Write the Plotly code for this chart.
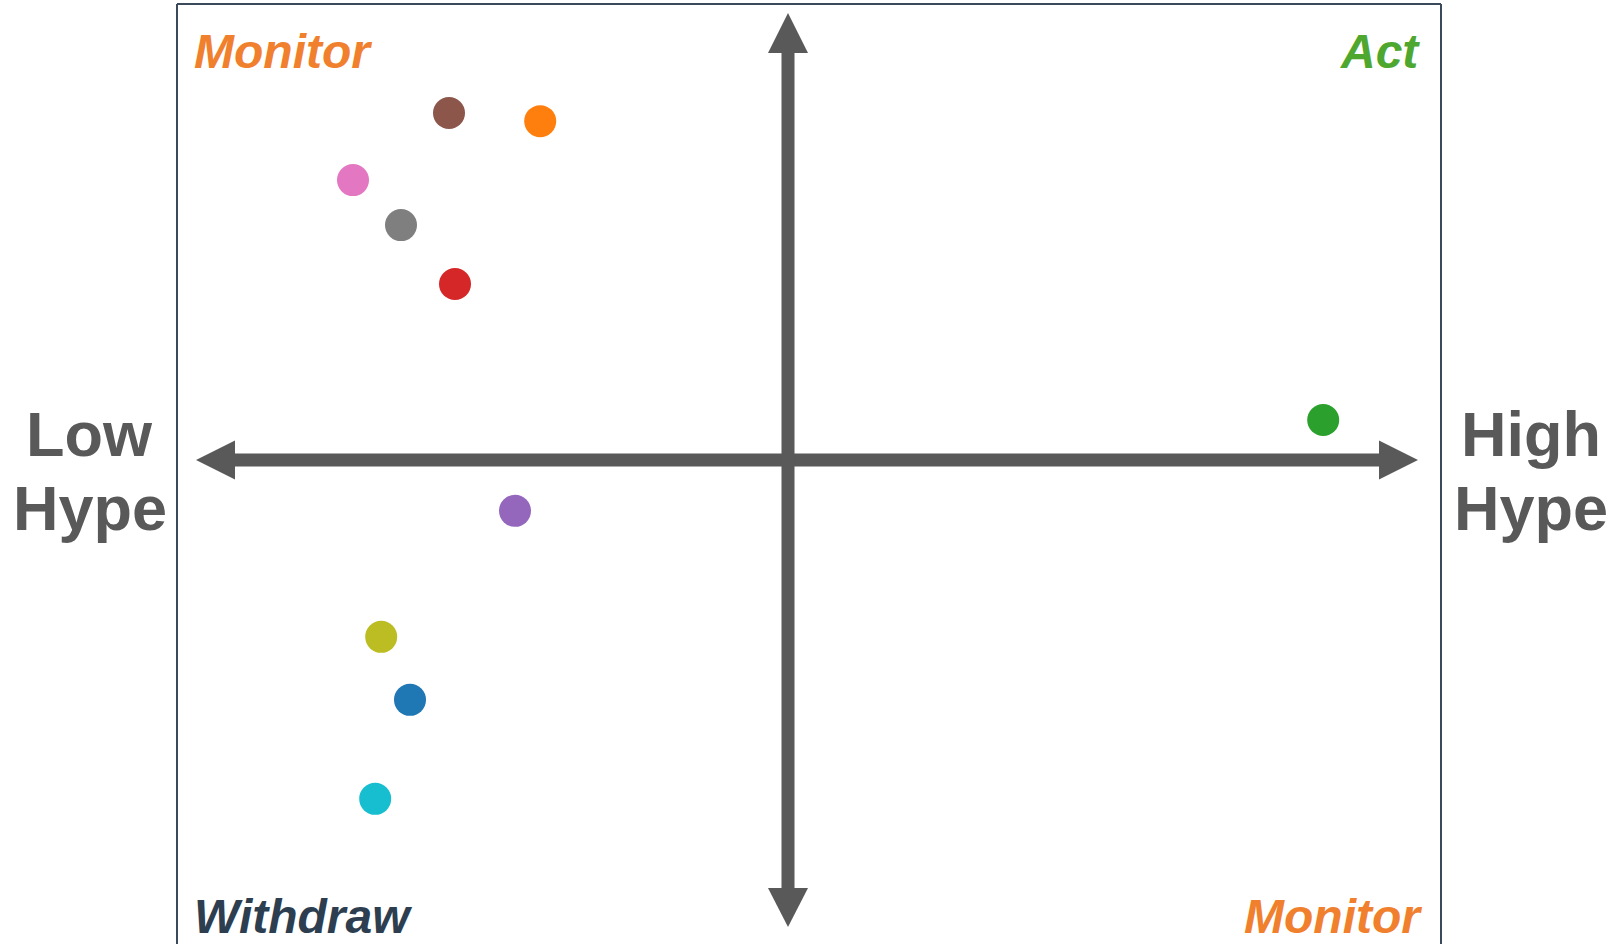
import plotly.graph_objects as go

# ---- data ----
items = ["Item A", "Item B", "Item C", "Item D", "Item E",
         "Item F", "Item G", "Item H", "Item I", "Item J"]
hype = [-6.30, -4.13, 8.92, -5.55, -4.55, -5.65, -7.25, -6.45, -6.78, -6.88]
impact = [-5.33, 7.53, 0.89, 3.91, -1.13, 7.71, 6.22, 5.22, -3.93, -7.53]
colors = ["#1f77b4", "#ff7f0e", "#2ca02c", "#d62728", "#9467bd",
          "#8c564b", "#e377c2", "#7f7f7f", "#bcbd22", "#17becf"]

quadrant_labels = ["Monitor", "Act", "Withdraw", "Monitor"]
quadrant_colors = ["#F07F2E", "#4EA72E", "#2C3E50", "#F07F2E"]
axis_labels = [["Low", "Hype"], ["High", "Hype"]]

# ---- layout constants ----
W, H = 1614, 944
ML, MR, MT, MB = 177, 173, 4, 0
PW, PH = W - ML - MR, H - MT - MB
XPX = 60.0   # px per x unit
YPX = 45.0   # px per y unit
X0PX, Y0PX = 788, 460  # pixel of origin


def dx(px):
    return (px - X0PX) / XPX


def dy(py):
    return (Y0PX - py) / YPX


def paperx(px):
    return (px - ML) / PW


def papery(py):
    return 1 - (py - MT) / PH


xr = [dx(ML), dx(W - MR)]
yr = [dy(H - MB), dy(MT)]

fig = go.Figure()

for name, x, y, c in zip(items, hype, impact, colors):
    fig.add_trace(go.Scatter(x=[x], y=[y], mode="markers", name=name,
                             marker=dict(size=32, color=c, line=dict(width=0)),
                             showlegend=False, cliponaxis=False))

AC = "#595959"
shapes = []
# horizontal arrow
shapes.append(dict(type="line", x0=dx(232), x1=dx(1382), y0=0, y1=0,
                   line=dict(color=AC, width=13), layer="below"))
shapes.append(dict(type="path", path=f"M {dx(196)},0 L {dx(235)},{19.5/YPX} L {dx(235)},{-19.5/YPX} Z",
                   fillcolor=AC, line=dict(width=0), layer="below"))
shapes.append(dict(type="path", path=f"M {dx(1418)},0 L {dx(1379)},{19.5/YPX} L {dx(1379)},{-19.5/YPX} Z",
                   fillcolor=AC, line=dict(width=0), layer="below"))
# vertical arrow
shapes.append(dict(type="line", y0=dy(50), y1=dy(891), x0=0, x1=0,
                   line=dict(color=AC, width=13), layer="below"))
shapes.append(dict(type="path", path=f"M 0,{dy(13)} L {20/XPX},{dy(53)} L {-20/XPX},{dy(53)} Z",
                   fillcolor=AC, line=dict(width=0), layer="below"))
shapes.append(dict(type="path", path=f"M 0,{dy(927)} L {20/XPX},{dy(888)} L {-20/XPX},{dy(888)} Z",
                   fillcolor=AC, line=dict(width=0), layer="below"))
# border (left, top, right)
BC = "#3A4A5A"
for x0, y0, x1, y1 in [(0, 0, 0, 1), (0, 1, 1, 1), (1, 0, 1, 1)]:
    shapes.append(dict(type="line", xref="paper", yref="paper", x0=x0, y0=y0, x1=x1, y1=y1,
                       line=dict(color=BC, width=2)))

FONT = "Liberation Sans, Arial, sans-serif"
annots = []
qpos = [(192, 52, "left"), (1422, 52, "right"), (192, 916, "left"), (1424, 916, "right")]
for (px, py, anc), t, c in zip(qpos, quadrant_labels, quadrant_colors):
    annots.append(dict(xref="paper", yref="paper", x=paperx(px), y=papery(py),
                       text=f"<b><i>{t}</i></b>", showarrow=False,
                       xanchor=anc, yanchor="middle",
                       font=dict(family=FONT, size=48, color=c)))

for cx, lines in zip([90, 1531], axis_labels):
    for py, t in zip([434, 508], lines):
        annots.append(dict(xref="paper", yref="paper", x=paperx(cx), y=papery(py),
                           text=f"<b>{t}</b>", showarrow=False,
                           xanchor="center", yanchor="middle",
                           font=dict(family=FONT, size=63, color=AC)))

fig.update_layout(
    width=W, height=H,
    margin=dict(l=ML, r=MR, t=MT, b=MB, pad=0),
    paper_bgcolor="white", plot_bgcolor="white",
    xaxis=dict(range=xr, visible=False, showgrid=False, zeroline=False, fixedrange=True),
    yaxis=dict(range=yr, visible=False, showgrid=False, zeroline=False, fixedrange=True),
    shapes=shapes, annotations=annots, showlegend=False,
)

fig.write_html("out.html", config={"displayModeBar": False},
               post_script="document.body.style.margin='0';document.body.style.overflow='hidden';")
